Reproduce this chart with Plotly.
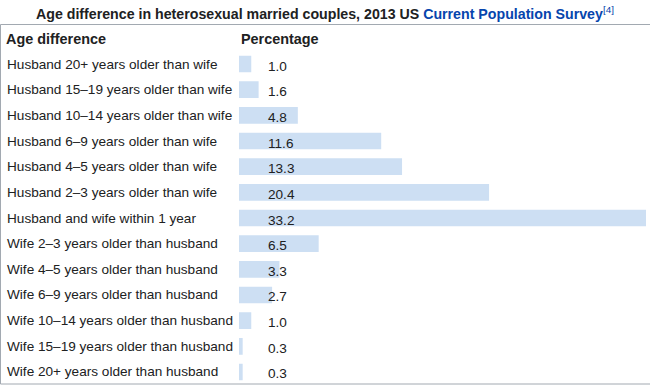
import plotly.graph_objects as go

categories = [
    "Husband 20+ years older than wife",
    "Husband 15–19 years older than wife",
    "Husband 10–14 years older than wife",
    "Husband 6–9 years older than wife",
    "Husband 4–5 years older than wife",
    "Husband 2–3 years older than wife",
    "Husband and wife within 1 year",
    "Wife 2–3 years older than husband",
    "Wife 4–5 years older than husband",
    "Wife 6–9 years older than husband",
    "Wife 10–14 years older than husband",
    "Wife 15–19 years older than husband",
    "Wife 20+ years older than husband",
]
percentages = [1.0, 1.6, 4.8, 11.6, 13.3, 20.4, 33.2, 6.5, 3.3, 2.7, 1.0, 0.3, 0.3]
value_labels = [f"{v:.1f}" for v in percentages]

W, H = 650, 387
FONT = "Liberation Sans, Arial, sans-serif"
TXT = "#202122"
FS = 13.6

row_top = 51.2
row_bottom = 384.8
rows = list(range(len(categories)))

fig = go.Figure()
fig.add_trace(go.Bar(
    x=percentages, y=rows, orientation="h",
    marker=dict(color="#cddff3", line=dict(width=0)),
    width=0.65, hoverinfo="skip",
))

annotations = []
for i, (c, lab) in enumerate(zip(categories, value_labels)):
    annotations.append(dict(x=5 / W, xref="paper", y=i, yref="y", text=c,
                            xanchor="left", yanchor="middle", showarrow=False,
                            font=dict(family=FONT, size=FS, color=TXT)))
    annotations.append(dict(x=266 / W, xref="paper", y=i, yref="y", text=lab,
                            xanchor="left", yanchor="middle", showarrow=False, yshift=-2,
                            font=dict(family=FONT, size=FS, color=TXT)))

annotations.append(dict(x=4 / W, xref="paper", y=(H - 39) / H, yref="paper",
                        text="<b>Age difference</b>", xanchor="left", yanchor="middle",
                        showarrow=False, font=dict(family=FONT, size=14.4, color=TXT)))
annotations.append(dict(x=239 / W, xref="paper", y=(H - 39) / H, yref="paper",
                        text="<b>Percentage</b>", xanchor="left", yanchor="middle",
                        showarrow=False, font=dict(family=FONT, size=14.4, color=TXT)))
annotations.append(dict(x=325 / W, xref="paper", y=(H - 13) / H, yref="paper",
                        text="<b>Age difference in heterosexual married couples, 2013 US "
                             "<span style='color:#0645ad'>Current Population Survey</span></b>"
                             "<span style='color:#0645ad'><sup>[4]</sup></span>",
                        xanchor="center", yanchor="middle", showarrow=False,
                        font=dict(family=FONT, size=14.2, color=TXT)))

fig.update_layout(
    width=W, height=H,
    margin=dict(l=0, r=0, t=0, b=0),
    paper_bgcolor="white", plot_bgcolor="white",
    showlegend=False,
    xaxis=dict(domain=[239 / W, 1], range=[0, 33.2 * 411 / 407], visible=False, fixedrange=True),
    yaxis=dict(domain=[(H - row_bottom) / H, (H - row_top) / H], range=[12.5, -0.5],
               visible=False, fixedrange=True),
    annotations=annotations,
    shapes=[dict(type="rect", xref="paper", yref="paper",
                 x0=0.5 / W, x1=1.02, y0=(H - 384) / H, y1=(H - 24.5) / H,
                 line=dict(color="#a2a9b1", width=1), layer="below")],
)

fig.write_html("out.html", config={"displayModeBar": False},
               post_script="document.body.style.margin='0';document.body.style.padding='0';"
                           "document.body.style.overflow='hidden';")
